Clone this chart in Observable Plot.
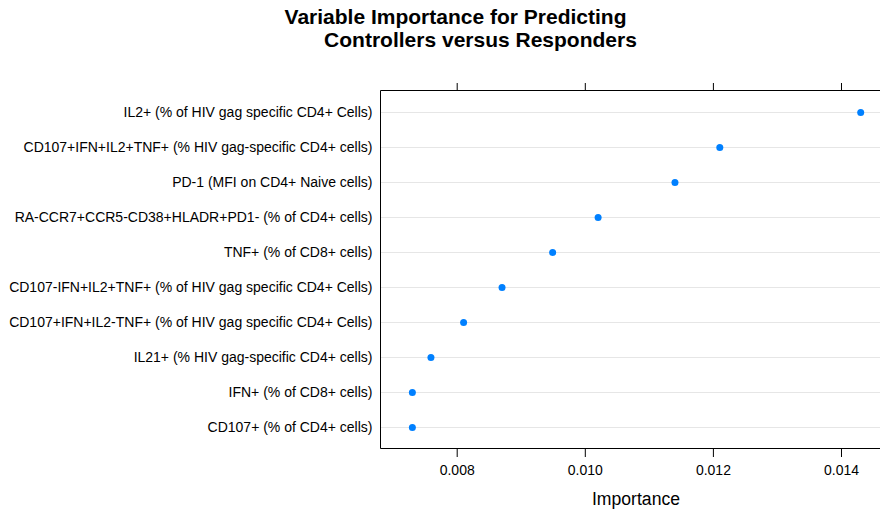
<!DOCTYPE html>
<html>
<head>
<meta charset="utf-8">
<script src="https://cdn.jsdelivr.net/npm/d3@7"></script>
<script src="https://cdn.jsdelivr.net/npm/@observablehq/plot@0.6"></script>
<style>
  html, body { margin: 0; padding: 0; background: #fff; overflow: hidden; }
  #wrap { position: relative; width: 880px; height: 511px; }
  #title { position: absolute; left: 0; top: 0; }
  #chart { position: absolute; left: 0; top: 0; }
</style>
</head>
<body>
<div id="wrap"><div id="chart"></div><svg id="title" width="880" height="60"></svg></div>
<script>
const titleLines = ["Variable Importance for Predicting", "Controllers versus Responders"];

const variables = [
  "IL2+ (% of HIV gag specific CD4+ Cells)",
  "CD107+IFN+IL2+TNF+ (% HIV gag-specific CD4+ cells)",
  "PD-1 (MFI on CD4+ Naive cells)",
  "RA-CCR7+CCR5-CD38+HLADR+PD1- (% of CD4+ cells)",
  "TNF+ (% of CD8+ cells)",
  "CD107-IFN+IL2+TNF+ (% of HIV gag specific CD4+ Cells)",
  "CD107+IFN+IL2-TNF+ (% of HIV gag specific CD4+ Cells)",
  "IL21+ (% HIV gag-specific CD4+ cells)",
  "IFN+ (% of CD8+ cells)",
  "CD107+ (% of CD4+ cells)"
];
const importance = [0.01430, 0.01210, 0.01140, 0.01020, 0.00949, 0.00870, 0.00810, 0.00759, 0.00730, 0.00730];
const xTicks = [0.008, 0.010, 0.012, 0.014];
const xLabel = "Importance";

const data = variables.map((v, i) => ({variable: v, importance: importance[i]}));

const font = "'Liberation Sans', Arial, Helvetica, sans-serif";

// Panel border (left, top, bottom; right side falls outside the window)
function panelBorder(index, scales, values, dims) {
  const {marginLeft, marginTop, marginBottom, height, width} = dims;
  const path = d3.create("svg:path")
    .attr("d", `M${width},${marginTop + 0.5}H${marginLeft + 0.5}V${height - marginBottom - 0.5}H${width}`)
    .attr("fill", "none")
    .attr("stroke", "#000")
    .attr("stroke-width", 1);
  return path.node();
}

const chart = Plot.plot({
  width: 880,
  height: 511,
  marginLeft: 380,
  marginRight: 0,
  marginTop: 90,
  marginBottom: 62,
  style: {fontFamily: font, background: "#fff", color: "#000"},
  x: {domain: [0.0068025, 0.014609], ticks: xTicks},
  y: {type: "point", domain: variables, padding: 0.6},
  marks: [
    Plot.gridY({stroke: "#e6e6e6", strokeOpacity: 1, strokeWidth: 1}),
    Plot.dot(data, {x: "importance", y: "variable", r: 3.5, fill: "#0080ff", stroke: "none"}),
    Plot.axisY({tickSize: 0, tickPadding: 8, fontSize: 14, label: null}),
    Plot.axisX({anchor: "top", ticks: xTicks, tickSize: 8, tickFormat: () => "", label: null}),
    Plot.axisX({anchor: "bottom", ticks: xTicks, tickSize: 8, tickPadding: 8, tickFormat: d3.format(".3f"), fontSize: 14, label: null}),
    panelBorder
  ]
});
document.getElementById("chart").appendChild(chart);

// x axis label as SVG text below the panel
const svg = d3.select(chart);
svg.append("text")
  .attr("x", 636).attr("y", 505)
  .attr("text-anchor", "middle")
  .style("font-family", font).style("font-size", "17.6px").attr("fill", "#000")
  .text(xLabel);

const t = d3.select("#title");
t.append("text").attr("x", 455.5).attr("y", 23.5).attr("text-anchor", "middle")
  .style("font-family", font).style("font-size", "21px").style("font-weight", "bold").text(titleLines[0]);
t.append("text").attr("x", 480.5).attr("y", 47).attr("text-anchor", "middle")
  .style("font-family", font).style("font-size", "21px").style("font-weight", "bold").text(titleLines[1]);
</script>
</body>
</html>
